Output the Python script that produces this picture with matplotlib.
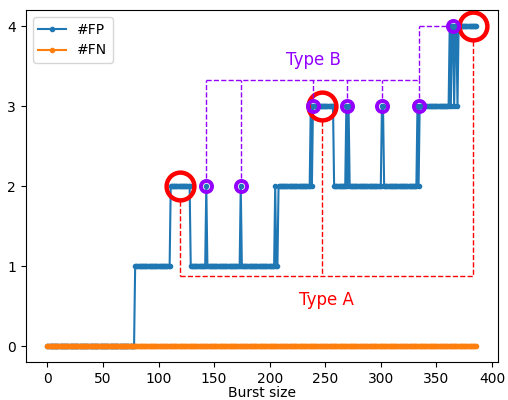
import numpy as np
import matplotlib
matplotlib.use('Agg')
import matplotlib.pyplot as plt

# burst sizes 0..386
burst_size = np.arange(0, 387)

# #FP: (first burst size of run, value)
fp_run_start = [0, 79, 111, 129, 143, 144, 174, 175, 205, 206, 208,
                237, 238, 239, 258, 269, 270, 271, 272, 301, 303,
                333, 334, 335, 362, 363, 364, 366, 367, 369, 370]
fp_run_value = [0, 1, 2, 1, 2, 1, 2, 1, 2, 1, 2,
                3, 2, 3, 2, 3, 2, 3, 2, 3, 2,
                3, 2, 3, 4, 3, 4, 3, 4, 3, 4]

# #FN is zero everywhere
fn_values = np.zeros(len(burst_size))

# annotation anchors
type_a_x = [119, 247.5, 383]
type_a_y = [2, 3, 4]
type_b_x = [143, 174, 239, 270, 301.5, 334, 365]
type_b_y = [2, 2, 3, 3, 3, 3, 4]

run_len = np.diff(fp_run_start + [len(burst_size)])
fp_values = np.repeat(fp_run_value, run_len)

purple = '#9400ff'

fig = plt.figure(figsize=(5.08, 4.0), dpi=100)
ax = fig.add_axes([0.051, 0.095, 0.929, 0.88])

ax.plot(burst_size, fp_values, '.-', color='C0', label='#FP')
ax.plot(burst_size, fn_values, '.-', color='C1', label='#FN')

# Type A bracket (red)
a_base = 0.88
for x, y in zip(type_a_x, type_a_y):
    ax.plot([x, x], [y - 0.19, a_base], '--', color='red', lw=1)
ax.plot([type_a_x[0], type_a_x[-1]], [a_base, a_base], '--', color='red', lw=1)
ax.plot(type_a_x, type_a_y, 'o', ms=20, mfc='none', mec='red', mew=3.2)
ax.text(251, 0.575, 'Type A', color='red', fontsize=12, ha='center', va='center')

# Type B bracket (purple)
b_base = 3.325
for x, y in zip(type_b_x[:-1], type_b_y[:-1]):
    ax.plot([x, x], [y + 0.1, b_base], '--', color=purple, lw=1)
ax.plot([type_b_x[0], type_b_x[-2]], [b_base, b_base], '--', color=purple, lw=1)
ax.plot([type_b_x[-2], type_b_x[-2]], [b_base, type_b_y[-1]], '--', color=purple, lw=1)
ax.plot([type_b_x[-2], type_b_x[-1] - 5], [type_b_y[-1], type_b_y[-1]], '--', color=purple, lw=1)
ax.plot(type_b_x, type_b_y, 'o', ms=8, mfc='none', mec=purple, mew=2.8)
ax.text(239, 3.575, 'Type B', color=purple, fontsize=12, ha='center', va='center')

ax.set_xticks(range(0, 401, 50))
ax.set_yticks([0, 1, 2, 3, 4])
ax.set_xlabel('Burst size', labelpad=0)
ax.legend(loc='upper left')

fig.savefig('out.png', dpi=100)
